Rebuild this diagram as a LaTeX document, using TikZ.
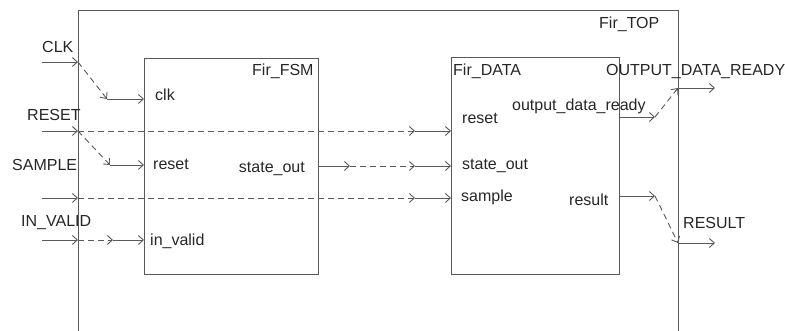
\documentclass[tikz,border=0pt]{standalone}
\usepackage{fontspec}
\setmainfont{Liberation Sans}
\usetikzlibrary{arrows.meta}
\begin{document}
\begin{tikzpicture}[x=1pt,y=-1pt,
  wire/.style={draw=black!65, line width=0.9pt, -{Straight Barb[length=5pt,width=9pt]}},
  dwire/.style={wire, dash pattern=on 6pt off 4pt},
  blk/.style={draw=black!65, line width=0.9pt},
  lbl/.style={inner sep=0pt, font=\fontsize{16}{16}\selectfont, text=black!85}]
\useasboundingbox (0,0) rectangle (785,331);

% top-level block, open at the bottom
\draw[blk] (78,331) -- (78,10) -- (678,10) -- (678,331);
\node[lbl, anchor=base west] (top) at (599,29) {Fir\_TOP};

% sub-blocks
\draw[blk] (144,58) rectangle (318,274);
\draw[blk] (451,57) rectangle (619,274);
\node[lbl, anchor=base west] (fsmname) at (252,76) {Fir\_FSM};
\node[lbl, anchor=base west] (dataname) at (453,76) {Fir\_DATA};

% external port labels
\node[lbl, anchor=base west] (lclk) at (42,53) {CLK};
\node[lbl, anchor=base west] (lrst) at (27,121) {RESET};
\node[lbl, anchor=base west] (lsmp) at (12,171) {SAMPLE};
\node[lbl, anchor=base west] (lval) at (21,227) {IN\_VALID};
\node[lbl, anchor=base west] (lodr) at (606,76) {OUTPUT\_DATA\_READY};
\node[lbl, anchor=base west] (lres) at (683,229) {RESULT};

% sub-block pin labels
\node[lbl, anchor=base west] (fclk) at (155,101) {clk};
\node[lbl, anchor=base west] (frst) at (153,170) {reset};
\node[lbl, anchor=base west] (fval) at (150,246) {in\_valid};
\node[lbl, anchor=base east] (fso) at (305,173) {state\_out};
\node[lbl, anchor=base west] (drst) at (462,124) {reset};
\node[lbl, anchor=base west] (dso) at (462,170) {state\_out};
\node[lbl, anchor=base west] (dsmp) at (461,202) {sample};
\node[lbl, anchor=base west] (dodr) at (512,111) {output\_data\_ready};
\node[lbl, anchor=base west] (dres) at (569,206) {result};

% wire end points
\coordinate (clkin) at (42,62);   \coordinate (clkp) at (78,62);
\coordinate (clkb) at (107,99);   \coordinate (clkf) at (144,99);
\coordinate (rstin) at (42,131);  \coordinate (rstp) at (78,131);
\coordinate (rstb) at (110,165);  \coordinate (rstf) at (144,165);
\coordinate (rstc) at (415,131);  \coordinate (rstd) at (451,131);
\coordinate (smpin) at (42,198);  \coordinate (smpp) at (78,198);
\coordinate (smpc) at (415,198);  \coordinate (smpd) at (451,198);
\coordinate (valin) at (42,240);  \coordinate (valp) at (78,240);
\coordinate (valb) at (113,240);  \coordinate (valf) at (144,240);
\coordinate (sof) at (318,166);   \coordinate (soa) at (350,166);
\coordinate (soc) at (415,166);   \coordinate (sod) at (451,166);
\coordinate (odrd) at (619,117);  \coordinate (odra) at (655,117);
\coordinate (odrp) at (678,88);   \coordinate (odrout) at (715,88);
\coordinate (resd) at (619,196);  \coordinate (resa) at (655,196);
\coordinate (resp) at (678,243);  \coordinate (resout) at (715,243);

% CLK
\draw[wire] (clkin) -- (clkp);
\draw[dwire] (clkp) -- (clkb);
\draw[wire] (clkb) -- (clkf);
% RESET
\draw[wire] (rstin) -- (rstp);
\draw[dwire] (rstp) -- (rstb);
\draw[wire] (rstb) -- (rstf);
\draw[dwire] (rstp) -- (rstc);
\draw[wire] (rstc) -- (rstd);
% SAMPLE
\draw[wire] (smpin) -- (smpp);
\draw[dwire] (smpp) -- (smpc);
\draw[wire] (smpc) -- (smpd);
% IN_VALID
\draw[wire] (valin) -- (valp);
\draw[dwire] (valp) -- (valb);
\draw[wire] (valb) -- (valf);
% state_out
\draw[wire] (sof) -- (soa);
\draw[dwire] (soa) -- (soc);
\draw[wire] (soc) -- (sod);
% OUTPUT_DATA_READY
\draw[wire] (odrd) -- (odra);
\draw[dwire] (odra) -- (odrp);
\draw[wire] (odrp) -- (odrout);
% RESULT
\draw[wire] (resd) -- (resa);
\draw[dwire] (resa) -- (resp);
\draw[wire] (resp) -- (resout);
\end{tikzpicture}
\end{document}
